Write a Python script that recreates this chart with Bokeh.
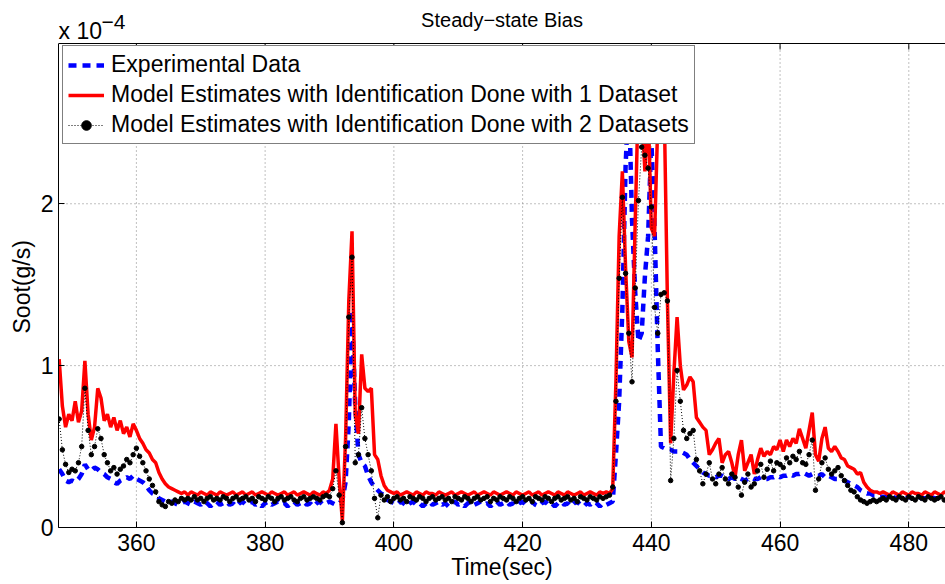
import numpy as np
from bokeh.plotting import figure
from bokeh.models import (Range1d, FixedTicker, Legend, LegendItem, Label,
                          ColumnDataSource, Span, Title)
from bokeh.embed import file_html
from bokeh.resources import INLINE

# sampling grid (seconds), 0.5 s step from 348 to 486
time_s = np.arange(348.0, 486.01, 0.5)

# soot values in units of 1e-4 g/s, one row = 5 s (10 samples)
experimental = [
    0.36, 0.33, 0.29, 0.28, 0.29, 0.28, 0.30, 0.33, 0.39, 0.36,  # 348
    0.35, 0.37, 0.36, 0.34, 0.33, 0.31, 0.30, 0.28, 0.27, 0.29,  # 353
    0.30, 0.31, 0.30, 0.32, 0.30, 0.29, 0.28, 0.26, 0.23, 0.21,  # 358
    0.20, 0.18, 0.17, 0.16, 0.15, 0.16, 0.15, 0.14, 0.15, 0.16,  # 363
    0.15, 0.14, 0.16, 0.15, 0.14, 0.16, 0.15, 0.13, 0.15, 0.16,  # 368
    0.14, 0.15, 0.16, 0.14, 0.15, 0.13, 0.15, 0.16, 0.14, 0.15,  # 373
    0.16, 0.14, 0.15, 0.13, 0.15, 0.16, 0.14, 0.15, 0.16, 0.14,  # 378
    0.15, 0.13, 0.15, 0.16, 0.14, 0.15, 0.16, 0.14, 0.15, 0.13,  # 383
    0.15, 0.16, 0.14, 0.15, 0.16, 0.15, 0.14, 0.15, 0.17, 0.28,  # 388
    0.65, 1.34, 0.75, 0.45, 0.40, 0.38, 0.32, 0.28, 0.25, 0.23,  # 393
    0.21, 0.20, 0.17, 0.16, 0.15, 0.14, 0.16, 0.15, 0.13, 0.15,  # 398
    0.16, 0.14, 0.15, 0.13, 0.15, 0.16, 0.14, 0.15, 0.16, 0.14,  # 403
    0.15, 0.13, 0.15, 0.16, 0.14, 0.15, 0.13, 0.15, 0.16, 0.14,  # 408
    0.15, 0.16, 0.14, 0.15, 0.13, 0.15, 0.16, 0.14, 0.15, 0.16,  # 413
    0.14, 0.15, 0.13, 0.15, 0.16, 0.14, 0.15, 0.16, 0.14, 0.13,  # 418
    0.15, 0.16, 0.14, 0.15, 0.13, 0.15, 0.16, 0.14, 0.15, 0.13,  # 423
    0.15, 0.16, 0.14, 0.13, 0.15, 0.14, 0.16, 0.15, 0.13, 0.15,  # 428
    0.14, 0.15, 0.16, 0.45, 0.78, 1.35, 2.23, 2.70, 1.90, 1.45,  # 433
    1.15, 1.20, 1.55, 1.80, 2.40, 1.85, 1.10, 0.50, 0.49, 0.48,  # 438
    0.48, 0.47, 0.47, 0.47, 0.46, 0.45, 0.42, 0.40, 0.38, 0.36,  # 443
    0.34, 0.33, 0.32, 0.32, 0.31, 0.32, 0.32, 0.31, 0.30, 0.31,  # 448
    0.30, 0.31, 0.30, 0.29, 0.30, 0.31, 0.30, 0.30, 0.31, 0.30,  # 453
    0.30, 0.31, 0.31, 0.32, 0.31, 0.32, 0.32, 0.33, 0.32, 0.33,  # 458
    0.33, 0.34, 0.33, 0.32, 0.33, 0.32, 0.32, 0.33, 0.31, 0.32,  # 463
    0.31, 0.30, 0.30, 0.29, 0.29, 0.28, 0.27, 0.26, 0.25, 0.23,  # 468
    0.22, 0.21, 0.21, 0.20, 0.20, 0.19, 0.19, 0.19, 0.18, 0.19,  # 473
    0.18, 0.19, 0.18, 0.18, 0.19, 0.18, 0.18, 0.19, 0.18, 0.18,  # 478
    0.18, 0.19, 0.18, 0.18, 0.19, 0.18, 0.18,                    # 483
]

model_1_dataset = [
    1.04, 0.75, 0.62, 0.70, 0.66, 0.78, 0.65, 0.72, 1.03, 0.70,  # 348
    0.54, 0.62, 0.86, 0.80, 0.66, 0.70, 0.62, 0.68, 0.60, 0.66,  # 353
    0.58, 0.62, 0.56, 0.64, 0.60, 0.55, 0.52, 0.48, 0.46, 0.42,  # 358
    0.40, 0.34, 0.30, 0.27, 0.25, 0.24, 0.23, 0.22, 0.21, 0.22,  # 363
    0.20, 0.22, 0.21, 0.20, 0.22, 0.21, 0.20, 0.22, 0.21, 0.20,  # 368
    0.22, 0.21, 0.20, 0.21, 0.22, 0.20, 0.21, 0.22, 0.20, 0.21,  # 373
    0.22, 0.20, 0.21, 0.22, 0.21, 0.20, 0.22, 0.21, 0.20, 0.21,  # 378
    0.22, 0.20, 0.21, 0.22, 0.20, 0.21, 0.22, 0.21, 0.20, 0.22,  # 383
    0.21, 0.20, 0.22, 0.21, 0.23, 0.30, 0.64, 0.30, 0.04, 0.55,  # 388
    1.40, 1.83, 0.70, 0.58, 1.07, 0.86, 0.84, 0.86, 0.45, 0.42,  # 393
    0.32, 0.26, 0.23, 0.22, 0.21, 0.22, 0.20, 0.21, 0.22, 0.21,  # 398
    0.20, 0.22, 0.21, 0.20, 0.22, 0.21, 0.21, 0.20, 0.22, 0.21,  # 403
    0.20, 0.21, 0.22, 0.20, 0.21, 0.22, 0.21, 0.20, 0.21, 0.22,  # 408
    0.20, 0.21, 0.22, 0.21, 0.20, 0.22, 0.21, 0.20, 0.21, 0.22,  # 413
    0.21, 0.20, 0.22, 0.21, 0.20, 0.21, 0.22, 0.20, 0.21, 0.22,  # 418
    0.20, 0.21, 0.22, 0.21, 0.20, 0.22, 0.21, 0.20, 0.22, 0.21,  # 423
    0.20, 0.21, 0.22, 0.20, 0.21, 0.22, 0.21, 0.20, 0.22, 0.21,  # 428
    0.22, 0.21, 0.24, 0.90, 1.80, 2.20, 1.60, 1.15, 1.05, 1.90,  # 433
    2.70, 2.60, 2.20, 2.60, 1.85, 1.80, 2.50, 2.90, 2.60, 1.40,  # 438
    0.52, 0.95, 1.30, 1.00, 0.85, 0.88, 0.93, 0.90, 0.68, 0.65,  # 443
    0.62, 0.60, 0.45, 0.48, 0.52, 0.55, 0.40, 0.45, 0.47, 0.40,  # 448
    0.31, 0.45, 0.54, 0.35, 0.40, 0.45, 0.33, 0.42, 0.49, 0.44,  # 453
    0.47, 0.45, 0.50, 0.48, 0.54, 0.47, 0.54, 0.50, 0.55, 0.52,  # 458
    0.61, 0.55, 0.49, 0.60, 0.71, 0.45, 0.41, 0.55, 0.62, 0.49,  # 463
    0.47, 0.50, 0.47, 0.43, 0.42, 0.38, 0.37, 0.36, 0.33, 0.34,  # 468
    0.28, 0.25, 0.23, 0.22, 0.22, 0.21, 0.22, 0.21, 0.20, 0.22,  # 473
    0.21, 0.20, 0.22, 0.21, 0.20, 0.22, 0.21, 0.21, 0.20, 0.22,  # 478
    0.21, 0.20, 0.22, 0.21, 0.20, 0.22, 0.21,                    # 483
]

model_2_datasets = [
    0.67, 0.48, 0.39, 0.34, 0.36, 0.35, 0.40, 0.50, 0.86, 0.60,  # 348
    0.45, 0.50, 0.61, 0.55, 0.45, 0.40, 0.35, 0.37, 0.33, 0.36,  # 353
    0.38, 0.42, 0.40, 0.45, 0.49, 0.44, 0.40, 0.35, 0.30, 0.26,  # 358
    0.22, 0.16, 0.14, 0.13, 0.16, 0.15, 0.17, 0.16, 0.18, 0.17,  # 363
    0.18, 0.17, 0.19, 0.17, 0.18, 0.16, 0.18, 0.19, 0.17, 0.18,  # 368
    0.17, 0.19, 0.18, 0.16, 0.18, 0.19, 0.17, 0.18, 0.19, 0.17,  # 373
    0.18, 0.16, 0.19, 0.18, 0.17, 0.19, 0.18, 0.16, 0.18, 0.19,  # 378
    0.17, 0.18, 0.19, 0.17, 0.16, 0.18, 0.19, 0.17, 0.18, 0.19,  # 383
    0.18, 0.17, 0.19, 0.20, 0.19, 0.24, 0.35, 0.20, 0.03, 0.50,  # 388
    1.30, 1.67, 0.40, 0.45, 0.74, 0.55, 0.45, 0.35, 0.18, 0.06,  # 393
    0.20, 0.17, 0.19, 0.16, 0.18, 0.19, 0.17, 0.18, 0.16, 0.19,  # 398
    0.18, 0.17, 0.19, 0.18, 0.16, 0.18, 0.19, 0.17, 0.18, 0.19,  # 403
    0.17, 0.18, 0.16, 0.19, 0.18, 0.17, 0.19, 0.18, 0.16, 0.18,  # 408
    0.19, 0.17, 0.18, 0.19, 0.16, 0.18, 0.17, 0.19, 0.18, 0.17,  # 413
    0.19, 0.18, 0.16, 0.18, 0.19, 0.17, 0.18, 0.16, 0.19, 0.18,  # 418
    0.17, 0.19, 0.18, 0.16, 0.18, 0.19, 0.17, 0.18, 0.19, 0.17,  # 423
    0.18, 0.16, 0.19, 0.18, 0.17, 0.19, 0.18, 0.17, 0.19, 0.18,  # 428
    0.19, 0.20, 0.25, 0.78, 1.54, 2.04, 1.57, 1.20, 0.90, 1.48,  # 433
    2.02, 2.35, 2.30, 2.22, 1.98, 1.36, 1.20, 1.44, 1.45, 1.40,  # 438
    0.29, 0.55, 0.97, 0.78, 0.60, 0.55, 0.58, 0.60, 0.42, 0.35,  # 443
    0.27, 0.33, 0.40, 0.30, 0.27, 0.33, 0.37, 0.30, 0.27, 0.33,  # 448
    0.31, 0.25, 0.20, 0.28, 0.33, 0.25, 0.27, 0.35, 0.39, 0.31,  # 453
    0.36, 0.41, 0.35, 0.40, 0.39, 0.37, 0.43, 0.40, 0.44, 0.42,  # 458
    0.47, 0.40, 0.39, 0.45, 0.54, 0.23, 0.30, 0.40, 0.43, 0.36,  # 463
    0.33, 0.35, 0.37, 0.32, 0.29, 0.26, 0.23, 0.22, 0.19, 0.17,  # 468
    0.16, 0.15, 0.16, 0.17, 0.16, 0.17, 0.18, 0.17, 0.19, 0.18,  # 473
    0.17, 0.19, 0.18, 0.17, 0.19, 0.18, 0.17, 0.19, 0.18, 0.17,  # 478
    0.19, 0.18, 0.17, 0.18, 0.19, 0.17, 0.18,                    # 483
]

x_ticks = [360, 380, 400, 420, 440, 460, 480]
y_ticks = [0, 1, 2]

FONT = "Liberation Sans"

X0, X1 = 347.9, 485.7      # axes x limits
Y_TOP = 2.99               # axes box top (x 1e-4)
Y_VIEW = Y_TOP * 527 / 484  # view extends above the box for title texts
TICK_LEN = Y_TOP * 6 / 484  # 6 px inward tick at the box top

src = ColumnDataSource(dict(t=time_s, exp=experimental, m1=model_1_dataset,
                            m2=model_2_datasets))

p = figure(width=945, height=584, output_backend="svg", toolbar_location=None,
           x_range=Range1d(X0, X1), y_range=Range1d(0, Y_VIEW),
           min_border_left=58, min_border_right=0, min_border_top=0,
           min_border_bottom=57, outline_line_color=None,
           background_fill_color="white", border_fill_color="white")
p.xgrid.visible = False
p.ygrid.visible = False

# dotted grid inside the axes box
p.segment(x0=x_ticks, x1=x_ticks, y0=[0] * len(x_ticks),
          y1=[Y_TOP] * len(x_ticks), line_color="#808080", line_width=1,
          line_dash="1 3")
p.segment(x0=[X0] * 2, x1=[X1] * 2, y0=y_ticks[1:], y1=y_ticks[1:],
          line_color="#808080", line_width=1, line_dash="1 3")

r_exp = p.line("t", "exp", source=src, color="#0000ff", line_width=4.5,
               line_dash="8 6")
r_m1 = p.line("t", "m1", source=src, color="#ff0000", line_width=3.5)
r_m2l = p.line("t", "m2", source=src, color="black", line_width=1,
               line_dash="1 2")
r_m2s = p.scatter("t", "m2", source=src, size=4.5, color="black")

# box top line and its inward ticks
p.add_layout(Span(location=Y_TOP, dimension="width", line_color="black",
                  line_width=1))
p.segment(x0=x_ticks, x1=x_ticks, y0=[Y_TOP] * len(x_ticks),
          y1=[Y_TOP - TICK_LEN] * len(x_ticks), line_color="black",
          line_width=1)

for ax in (p.xaxis[0], p.yaxis[0]):
    ax.major_tick_in = 6
    ax.major_tick_out = 0
    ax.minor_tick_line_color = None
    ax.axis_line_color = "black"
    ax.major_tick_line_color = "black"
    ax.major_label_text_font = FONT
    ax.major_label_text_font_size = "23px"
    ax.major_label_text_color = "black"
    ax.axis_label_text_font = FONT
    ax.axis_label_text_font_size = "23px"
    ax.axis_label_text_font_style = "normal"
    ax.axis_label_text_color = "black"

p.xaxis.ticker = FixedTicker(ticks=x_ticks)
p.yaxis.ticker = FixedTicker(ticks=y_ticks)
p.yaxis.bounds = (0, Y_TOP)
p.xaxis.axis_label = "Time(sec)"
p.xaxis.major_label_standoff = 6
p.xaxis.axis_label_standoff = 0
p.yaxis.major_label_standoff = 5

# y label as a side title, aligned so it is centred on the axes box
p.add_layout(Title(text="Soot(g/s)", align="left", offset=194,
                   text_font=FONT, text_font_size="23px",
                   text_font_style="normal", text_color="black",
                   standoff=6), "left")

legend = Legend(items=[
    LegendItem(label="Experimental Data", renderers=[r_exp]),
    LegendItem(label="Model Estimates with Identification Done with 1 Dataset",
               renderers=[r_m1]),
    LegendItem(label="Model Estimates with Identification Done with 2 Datasets",
               renderers=[r_m2l, r_m2s]),
], location=(4, 383), margin=0, padding=5, spacing=3, label_standoff=7,
    glyph_width=36, glyph_height=24, label_height=24,
    label_text_font=FONT, label_text_font_size="23px", label_text_color="black",
    border_line_color="black", border_line_width=1,
    background_fill_color="white", background_fill_alpha=1)
p.add_layout(legend)

p.add_layout(Label(x=443.5, y=508, x_units="screen", y_units="screen",
                   text="Steady\u2212state Bias", text_font=FONT,
                   text_font_size="20px", text_color="black",
                   text_align="center", text_baseline="alphabetic"))
p.add_layout(Label(x=0, y=497, x_units="screen", y_units="screen",
                   text="x 10", text_font=FONT, text_font_size="23px",
                   text_color="black", text_baseline="alphabetic"))
p.add_layout(Label(x=43, y=506, x_units="screen", y_units="screen",
                   text="\u22124", text_font=FONT, text_font_size="21px",
                   text_color="black", text_baseline="alphabetic"))

open("out.html", "w").write(file_html(p, INLINE))
